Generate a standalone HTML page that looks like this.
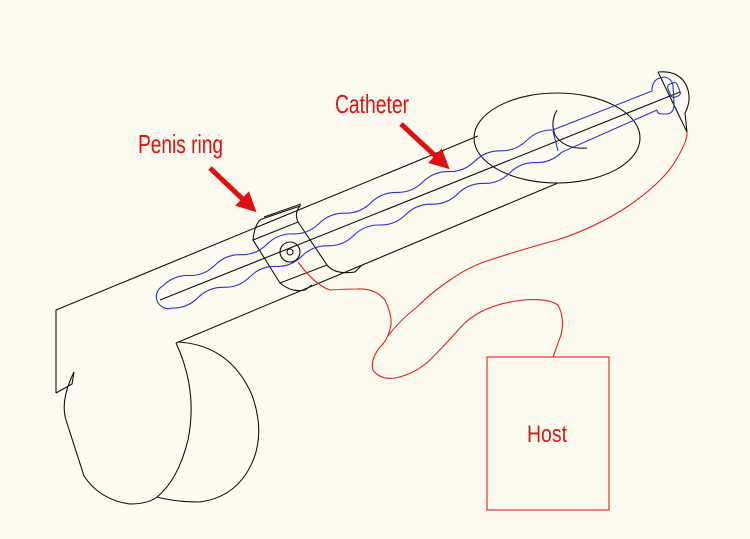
<!DOCTYPE html>
<html><head><meta charset="utf-8"><style>
html,body{margin:0;padding:0;background:#fdfbf0;}
svg{display:block}
</style></head><body>
<svg width="750" height="539" viewBox="0 0 750 539" xmlns="http://www.w3.org/2000/svg">
<rect width="750" height="539" fill="#fdfbf0"/>
<defs>
<marker id="ah" markerWidth="4" markerHeight="4" refX="2.2" refY="2" orient="auto" markerUnits="strokeWidth">
<path d="M0,0 L4,2 L0,4 Z" fill="#e01010"/></marker>
</defs>
<g fill="none" stroke="#111" stroke-width="1.1">
<path d="M56,393 L56,310 L478,136"/>
<path d="M176,343 L558,183"/>
<path d="M56,393 L72,384 L74,372"/>
<path d="M74,372 Q60,400 66,420 L84,476 Q100,500 130,504 Q148,504 157,497 Q178,480 188,440 Q198,390 176,343"/>
<path d="M178,342 Q230,345 252,395 Q268,440 246,474 Q230,498 200,502 Q175,502 157,497"/>
<ellipse cx="557" cy="138" rx="83" ry="45"/>
<path d="M557,110 Q550,122 555,135 Q565,150 587,148"/>
<path d="M658,72 Q680,70 687,87 Q692,100 685,113 L687,132 L658,72"/>
<path d="M160,300 L680,92"/>
<path d="M253,240 L298,222 L327,265 L280,283 Z"/>
<path d="M253,240 Q255,222 262,219 L300,206 Q294,213 298,222"/>
<path d="M264,217 L301,204"/>
<path d="M280,283 Q292,293 305,290 L312,285"/>
<path d="M327,265 Q335,275 355,272 L362,265"/>
<circle cx="290" cy="252" r="10"/>
<circle cx="290" cy="252" r="3"/>
</g>
<g fill="none" stroke="#3030d0" stroke-width="1.1">
<path d="M171.9,308.1 A12 12 0 0 1 163,285.9 Q173.8,275.1 189,275.5 T215,265.1 T240.9,254.7 T266.9,244.3 T292.9,233.9 T318.9,223.6 T344.9,213.2 T370.8,202.8 T396.8,192.4 T422.8,182 T448.8,171.6 T474.8,161.2 T500.7,150.8 T526.7,140.4 T552.7,130 L652,91"/>
<path d="M171.9,308.1 Q187.1,308.5 197.9,297.7 T223.9,287.3 T249.8,276.9 T275.8,266.5 T301.8,256.2 T327.8,245.8 T353.8,235.4 T379.7,225 T405.7,214.6 T431.7,204.2 T457.7,193.8 T483.7,183.4 T509.6,173 T535.6,162.6 T561.6,152.3 L657,110"/>
<path d="M553,131 L558,151"/>
<path d="M652,91 Q652,80 660,78 L664,77 Q672,78 673,86 L674,104 Q674,114 666,114 L662,114 Q657,114 657,110"/>
<rect x="669" y="83" width="10" height="14" rx="3" transform="rotate(-22 674 90)"/>
</g>
<g fill="none" stroke="#d22" stroke-width="1.1">
<path d="M298,262 Q315,285 330,290 Q345,289 357,289 Q375,288 385,300 Q392,315 391,325 Q388,340 380,347 Q370,360 373,370 Q380,380 395,378 Q415,374 430,360 Q445,345 460,328 Q480,305 523,300 Q548,298 558,305 Q565,318 561,335 L553,357"/>
<path d="M388,336 Q400,320 417,307 Q432,292 450,280 Q470,266 490,260 Q520,250 557,240 Q595,228 630,205 Q665,180 676,160 Q688,140 687,132"/>
<rect x="487" y="357" width="122" height="153"/>
</g>
<text x="547" y="442" text-anchor="middle" font-family="'Liberation Sans Narrow','Liberation Sans',sans-serif" font-size="24" fill="#d61818" textLength="40" lengthAdjust="spacingAndGlyphs">Host</text>
<text x="138" y="153" font-family="'Liberation Sans Narrow','Liberation Sans',sans-serif" font-size="26" fill="#e01010" textLength="85" lengthAdjust="spacingAndGlyphs">Penis ring</text>
<text x="335" y="113" font-family="'Liberation Sans Narrow','Liberation Sans',sans-serif" font-size="26" fill="#e01010" textLength="74" lengthAdjust="spacingAndGlyphs">Catheter</text>
<line x1="210" y1="168" x2="250" y2="206" stroke="#e01010" stroke-width="5" marker-end="url(#ah)"/>
<line x1="401" y1="124" x2="443" y2="163" stroke="#e01010" stroke-width="5" marker-end="url(#ah)"/>
</svg>
</body></html>
